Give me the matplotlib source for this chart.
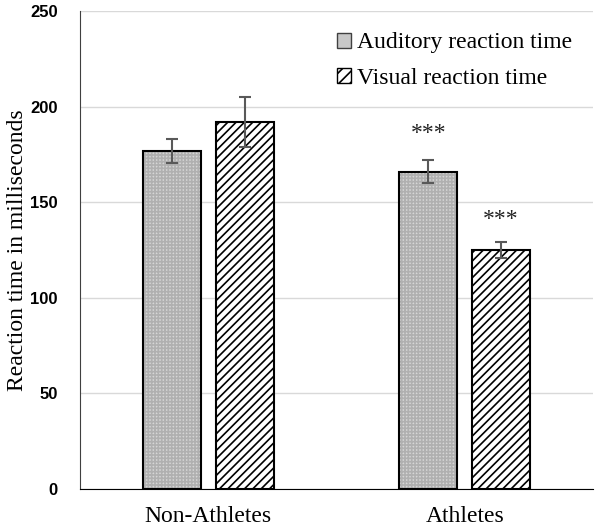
import numpy as np
import matplotlib
matplotlib.use('Agg')
import matplotlib.pyplot as plt
from matplotlib.patches import Patch

# data
groups = ['Non-Athletes', 'Athletes']
auditory = [177, 166]
auditory_err = [6.3, 5.9]
visual = [192, 125]
visual_err = [13, 4]
stars = ['', '***']  # significance marks above auditory bars
stars_visual = ['', '***']

plt.rcParams['hatch.linewidth'] = 1.2

fig = plt.figure(figsize=(6, 5.31), dpi=100)
ax = fig.add_axes([0.1333, 0.0791, 0.855, 0.9])

x = np.arange(len(groups))
w = 0.226
off = 0.142

# auditory bars: gray with fine dotted texture
ax.bar(x - off, auditory, w, color='#d6d6d6', edgecolor='#b0b0b0', hatch='+++++', linewidth=0, zorder=2)
ax.bar(x - off, auditory, w, fill=False, edgecolor='black', linewidth=1.5, zorder=3)
# visual bars: diagonal stripes
ax.bar(x + off, visual, w, color='white', edgecolor='black', hatch='////', linewidth=1.5, zorder=2)

ax.errorbar(x - off, auditory, yerr=auditory_err, fmt='none', ecolor='#595959', elinewidth=1.5, capsize=4.5, capthick=1.5, zorder=4)
ax.errorbar(x + off, visual, yerr=visual_err, fmt='none', ecolor='#595959', elinewidth=1.5, capsize=4.5, capthick=1.5, zorder=4)

for i in range(len(groups)):
    if stars[i]:
        ax.text(x[i] - off, auditory[i] + 20, stars[i], ha='center', va='center', fontsize=17, family='Liberation Serif', color='#222222')
    if stars_visual[i]:
        ax.text(x[i] + off, visual[i] + 16, stars_visual[i], ha='center', va='center', fontsize=17, family='Liberation Serif', color='#222222')

ax.set_xlim(-0.5, 1.5)
ax.set_ylim(0, 250)
ax.set_yticks(np.arange(0, 251, 50))
ax.set_xticks(x)
ax.set_xticklabels(groups, family='Liberation Serif', fontsize=17)
for lbl in ax.get_yticklabels():
    lbl.set_family('Liberation Sans')
    lbl.set_fontweight('bold')
    lbl.set_fontsize(12)
ax.tick_params(axis='both', length=0)
ax.tick_params(axis='y', pad=16)
ax.tick_params(axis='x', pad=12)
ax.set_ylabel('Reaction time in milliseconds', family='Liberation Serif', fontsize=17)
ax.yaxis.set_label_coords(-0.102, 0.5)

ax.grid(axis='y', color='#d9d9d9', linewidth=1, zorder=0)
ax.set_axisbelow(True)
for s in ['top', 'right']:
    ax.spines[s].set_visible(False)
ax.spines['left'].set_color('#404040')
ax.spines['bottom'].set_color('black')

handles = [Patch(facecolor='#c8c8c8', edgecolor='#404040'),
           Patch(facecolor='white', edgecolor='black', hatch='///')]
ax.legend(handles, ['Auditory reaction time', 'Visual reaction time'], loc='upper right',
          bbox_to_anchor=(1.0, 1.0), frameon=False, handlelength=0.6, handleheight=0.6,
          handletextpad=0.25, labelspacing=0.6, prop={'family': 'Liberation Serif', 'size': 17})

fig.savefig('out.png')
